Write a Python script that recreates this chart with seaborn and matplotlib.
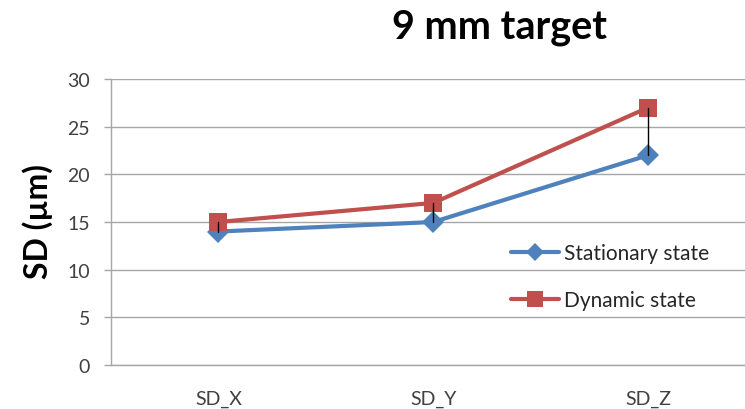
import matplotlib
matplotlib.use("Agg")
import matplotlib.pyplot as plt
import seaborn as sns
import pandas as pd

categories = ["SD_X", "SD_Y", "SD_Z"]
stationary = [14, 15, 22]
dynamic = [15, 17, 27]
series_names = ["Stationary state", "Dynamic state"]
y_ticks = [0, 5, 10, 15, 20, 25, 30]

sns.set_theme(style="white")
plt.rcParams["font.family"] = ["Lato", "DejaVu Sans"]

df = pd.DataFrame({
    "cat": categories * 2,
    "value": stationary + dynamic,
    "series": [series_names[0]] * 3 + [series_names[1]] * 3,
})

fig = plt.figure(figsize=(7.45, 4.10), dpi=100)
ax = fig.add_axes([111 / 745, 1 - 366 / 410, 1 - 111 / 745, (366 - 80) / 410])

blue = "#4F81BD"
red = "#C0504D"

sns.lineplot(data=df, x="cat", y="value", hue="series", style="series",
             markers={series_names[0]: "D", series_names[1]: "s"},
             dashes=False, palette={series_names[0]: blue, series_names[1]: red},
             linewidth=3, markersize=13, markeredgewidth=0, ax=ax, zorder=3)

# diamond drawn a touch smaller than the square
for line in ax.get_lines():
    if line.get_marker() == "D":
        line.set_markersize(11)

# high-low lines between the two series
for i, (lo, hi) in enumerate(zip(stationary, dynamic)):
    ax.plot([i, i], [lo, hi], color="black", linewidth=1.0, zorder=5)

ax.set_xlim(-0.5, (745 - 218) / 215)
ax.set_ylim(0, 30)
ax.set_yticks(y_ticks)
ax.yaxis.grid(True, color="#A6A6A6", linewidth=1.0)
ax.set_axisbelow(True)

for s in ["top", "right"]:
    ax.spines[s].set_visible(False)
for s in ["left", "bottom"]:
    ax.spines[s].set_color("#A6A6A6")
    ax.spines[s].set_linewidth(1.0)

ax.tick_params(axis="y", which="both", left=True, length=5, width=1.0,
               color="#A6A6A6", labelsize=14, labelcolor="#404040", pad=10)
ax.tick_params(axis="x", bottom=False, labelsize=14, labelcolor="#404040", pad=12)
ax.set_xlabel("")
ax.set_ylabel("")

handles, labels = ax.get_legend_handles_labels()
for h in handles:
    if h.get_marker() == "D":
        h.set_markersize(9)
    else:
        h.set_markersize(11)
ax.legend(handles, labels, loc="upper left", bbox_to_anchor=((503 - 111) / 634, (366 - 236) / 286),
          frameon=False, fontsize=15, handlelength=2.3, handletextpad=0.25,
          labelspacing=1.3, borderaxespad=0)

fig.text(500 / 745, 1 - 28 / 410, "9 mm target", ha="center", va="center",
         fontsize=28.5, fontweight="bold", color="black")
fig.text(38 / 745, 1 - 222 / 410, "SD (µm)", ha="center", va="center",
         rotation=90, fontsize=23, fontweight="bold", color="black")

fig.savefig("out.png", dpi=100)
